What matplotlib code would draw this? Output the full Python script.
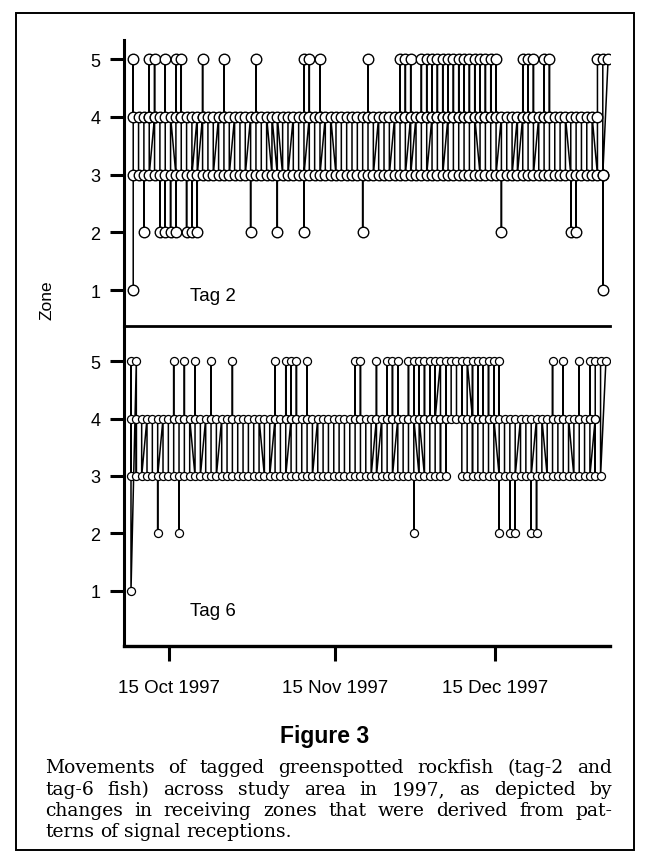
import matplotlib
matplotlib.use('Agg')
import matplotlib.pyplot as plt
from matplotlib.patches import Rectangle
from datetime import datetime, timedelta

# zones visited each day (in order), one token per day starting 8 Oct 1997
start = datetime(1997, 10, 8)

tag2_days = ("1534 43 324 4543 4543 324 4523 324 3254 4543 "
             "324 423 423 4543 34 43 43 3454 43 43 "
             "34 43 423 3454 43 34 34 324 34 43 "
             "43 34 4523 4543 34 4543 43 34 34 43 "
             "34 43 34 423 3454 43 43 34 43 43 "
             "3454 4543 4543 43 3454 4543 4543 3454 4543 4543 "
             "3454 4543 3454 4543 3454 3454 4543 3454 4543 423 "
             "34 43 43 4543 3454 4543 43 3454 4543 34 "
             "43 34 324 423 34 43 34 345 5313 5").split()

tag6_days = ("3451 534 43 43 34 423 43 34 4543 324 "
             "4543 34 3454 43 43 3454 43 43 34 4543 "
             "34 43 34 43 34 34 43 4543 34 4543 "
             "4543 3454 43 3454 43 43 34 43 34 43 "
             "34 43 3454 4543 34 43 4543 43 3454 4543 "
             "4543 34 4543 3254 3454 3454 4543 3454 5434 4354 "
             "45 54 4543 345 4354 4543 3454 4543 3454 3254 "
             "43 324 423 43 34 423 423 34 34 4543 "
             "34 4543 34 34 4543 34 4543 4345 53 5").split()

tick_dates = [datetime(1997, 10, 15), datetime(1997, 11, 15), datetime(1997, 12, 15)]
tick_labels = ['15 Oct 1997', '15 Nov 1997', '15 Dec 1997']
zone_ticks = [1, 2, 3, 4, 5]

caption = ["Movements of tagged greenspotted rockfish (tag-2 and",
           "tag-6 fish) across study area in 1997, as depicted by",
           "changes in receiving zones that were derived from pat-",
           "terns of signal receptions."]


def to_series(days, hour):
    t, z = [], []
    for i, tok in enumerate(days):
        for ch in tok:
            t.append(start + timedelta(days=i, hours=hour))
            z.append(int(ch))
    return t, z


plt.rcParams['font.family'] = ['Liberation Sans', 'DejaVu Sans']

W, H = 650, 853
fig = plt.figure(figsize=(W / 100, H / 100), dpi=100)

x0, x1 = 124, 610
ax1 = fig.add_axes([x0 / W, 1 - 327 / H, (x1 - x0) / W, (327 - 41) / H])
ax2 = fig.add_axes([x0 / W, 1 - 647 / H, (x1 - x0) / W, (647 - 327) / H])

xmin = start - timedelta(days=1.52)
xmax = start + timedelta(days=89.56)

t2, z2 = to_series(tag2_days, 5)
t6, z6 = to_series(tag6_days, -5)

ax1.plot(t2, z2, color='black', lw=1.1, marker='o', ms=7.6,
         mfc='white', mec='black', mew=1.0)
ax2.plot(t6, z6, color='black', lw=1.1, marker='o', ms=5.8,
         mfc='white', mec='black', mew=0.9)

ax1.set_ylim(0.377, 5.33)
ax2.set_ylim(0.036, 5.615)

for ax in (ax1, ax2):
    ax.set_xlim(xmin, xmax)
    ax.set_yticks(zone_ticks)
    ax.set_yticklabels([str(v) for v in zone_ticks])
    ax.tick_params(axis='y', direction='out', length=10, width=2.2,
                   pad=7, labelsize=13)
    ax.spines['right'].set_visible(False)
    ax.spines['left'].set_linewidth(2.2)
    ax.patch.set_visible(False)

ax1.spines['top'].set_visible(False)
ax1.spines['bottom'].set_visible(False)
ax1.set_xticks([])

ax2.spines['top'].set_linewidth(2)
ax2.spines['bottom'].set_linewidth(2.4)
ax2.set_xticks(tick_dates)
ax2.set_xticklabels(tick_labels)
ax2.tick_params(axis='x', direction='out', length=11, width=2.2,
                pad=13, labelsize=13.5)

fig.text(190 / W, 1 - 297 / H, 'Tag 2', fontsize=13.5, va='center', ha='left')
fig.text(190 / W, 1 - 612 / H, 'Tag 6', fontsize=13.5, va='center', ha='left')
fig.text(47 / W, 1 - 300 / H, 'Zone', fontsize=12.5, rotation=90,
         va='center', ha='center')

fig.text(325 / W, 1 - 737 / H, 'Figure 3', fontsize=16.5, fontweight='bold',
         va='center', ha='center')

# outer frame
fig.patches.append(Rectangle((16 / W, 2 / H), 618 / W, 837 / H,
                             transform=fig.transFigure, fill=False,
                             edgecolor='black', lw=1.4))

# justified caption
fig.canvas.draw()
r = fig.canvas.get_renderer()
left, right = 45, 612
ys = [768, 790, 811, 832]
csize = 13.5
for k, line in enumerate(caption):
    words = line.split()
    objs = [fig.text(0, 1 - ys[k] / H, w, fontsize=csize, family='DejaVu Serif',
                     va='center', ha='left') for w in words]
    widths = [o.get_window_extent(r).width for o in objs]
    if k < len(caption) - 1:
        gap = (right - left - sum(widths)) / (len(words) - 1)
    else:
        gap = csize * 0.32 * 100 / 72
    x = left
    for o, w in zip(objs, widths):
        o.set_x(x / W)
        x += w + gap

fig.savefig('out.png', dpi=100)
